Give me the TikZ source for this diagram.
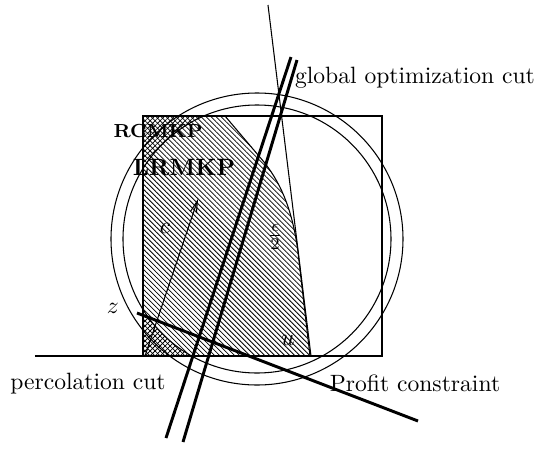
\documentclass[tikz,border=0pt]{standalone}
\usepackage{tikz,amsmath}
\usetikzlibrary{arrows.meta,patterns.meta}
\tikzset{
  cutline/.style={line width=1.25pt},
  thinline/.style={line width=0.45pt},
  lbl/.style={inner sep=0pt},
  hatch/.style={pattern={Lines[angle=-45,distance=1.5pt,line width=0.32pt]}},
  xhatch/.style={pattern={Lines[angle=45,distance=1.5pt,line width=0.32pt]}},
  ar/.style={-{Straight Barb[length=5pt,width=2.6pt]},thinline},
}

\begin{document}
\begin{tikzpicture}[x=0.424pt,y=-0.424pt]
  \useasboundingbox (0,0) rectangle (550,451);
  % points of the feasible region
  \coordinate (ctr) at (257,239);
  \coordinate (tl) at (143,116);
  \coordinate (tm) at (225,116);
  \coordinate (kn) at (264,162);
  \coordinate (rk) at (298,252);
  \coordinate (br) at (310,356);
  \coordinate (bl) at (143,356);
  \def\region{(tl) -- (tm) -- (kn) .. controls (283,186) and (293,214) .. (rk) -- (br) -- (bl) -- cycle}
  % crosshatched part outside the ball
  \begin{scope}
    \clip \region;
    \fill[xhatch,even odd rule] (0,0) rectangle (550,451) (ctr) circle[radius=134];
  \end{scope}
  \fill[hatch] \region;
  \draw[thinline] \region;
  \draw[thinline] (tl) rectangle (382,356);
  \draw[thinline] (ctr) circle[radius=134];
  \draw[thinline] (ctr) circle[radius=146];
  % cuts and constraints
  \coordinate (base0) at (35,356);
  \coordinate (base1) at (382,356);
  \draw[thinline] (base0) -- (base1);
  \coordinate (th0) at (268,5);
  \coordinate (th1) at (311,356);
  \draw[thinline] (th0) -- (th1);
  \coordinate (ga0) at (291,57);
  \coordinate (ga1) at (166,438);
  \coordinate (gb0) at (297,60);
  \coordinate (gb1) at (183,442);
  \draw[cutline] (ga0) -- (ga1);
  \draw[cutline] (gb0) -- (gb1);
  \coordinate (pc0) at (137,313);
  \coordinate (pc1) at (418,421);
  \draw[cutline] (pc0) -- (pc1);
  \coordinate (cv0) at (145,356);
  \coordinate (cv1) at (198,199);
  \draw[ar] (cv0) -- (cv1);
  % labels
  \node[lbl] (goc) at (415,78) {global optimization cut};
  \node[lbl,font=\footnotesize\bfseries] (rc) at (158,131) {RCMKP};
  \node[lbl,font=\bfseries] (lr) at (184,168) {LRMKP};
  \node[lbl] (cl) at (165,228) {$c$};
  \node[lbl] (el) at (275,237) {$\frac{\epsilon}{2}$};
  \node[lbl] (zl) at (113,308) {$z$};
  \node[lbl] (ul) at (288,340) {$u$};
  \node[lbl] (pcut) at (88,384) {percolation cut};
  \node[lbl] (prof) at (415,383) {Profit constraint};
\end{tikzpicture}
\end{document}
